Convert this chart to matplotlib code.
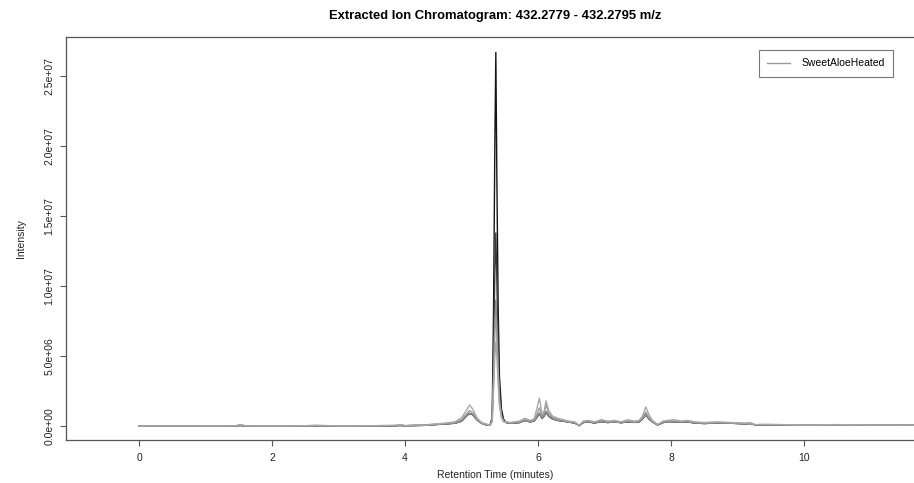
import matplotlib
matplotlib.use("Agg")
import matplotlib.pyplot as plt
import numpy as np

plt.rcParams['font.family'] = ['Liberation Sans', 'DejaVu Sans']

# retention time grid (minutes)
rt = [0.00, 0.50, 1.00, 1.45, 1.52, 1.60, 2.00, 2.50, 2.65, 3.00, 3.50, 3.85, 3.92,
      4.00, 4.30, 4.45, 4.60, 4.75, 4.85, 4.92, 4.97, 5.02, 5.08, 5.15, 5.22,
      5.28, 5.31, 5.33, 5.35, 5.365, 5.38, 5.40, 5.42, 5.45, 5.48, 5.52, 5.58,
      5.65, 5.72, 5.80, 5.88, 5.94, 5.98, 6.02, 6.06, 6.09, 6.12, 6.16, 6.22,
      6.30, 6.38, 6.46, 6.55, 6.62, 6.68, 6.75, 6.85, 6.95, 7.05, 7.15, 7.25,
      7.35, 7.45, 7.52, 7.57, 7.62, 7.67, 7.72, 7.80, 7.88, 7.95, 8.05, 8.15,
      8.25, 8.35, 8.50, 8.70, 8.90, 9.10, 9.20, 9.26, 9.40, 9.70, 10.00, 10.50,
      11.00, 11.50, 12.00]

# intensities of the five injections, in units of 1e6 counts
inj1 = [0.00, 0.00, 0.00, 0.01, 0.04, 0.01, 0.01, 0.01, 0.02, 0.01, 0.01, 0.02, 0.04,
        0.02, 0.05, 0.10, 0.15, 0.20, 0.35, 0.70, 0.90, 0.80, 0.45, 0.20, 0.08,
        0.10, 0.60, 8.00, 20.0, 26.7, 18.0, 8.50, 3.50, 1.20, 0.50, 0.25, 0.20,
        0.22, 0.25, 0.40, 0.30, 0.35, 0.60, 0.90, 0.55, 0.70, 1.00, 0.70, 0.50,
        0.40, 0.35, 0.28, 0.22, 0.03, 0.25, 0.30, 0.22, 0.32, 0.25, 0.30, 0.24,
        0.30, 0.26, 0.30, 0.50, 0.80, 0.50, 0.30, 0.07, 0.25, 0.32, 0.30, 0.28,
        0.30, 0.22, 0.18, 0.22, 0.20, 0.16, 0.18, 0.08, 0.09, 0.08, 0.06, 0.07,
        0.06, 0.05, 0.05]
inj2 = [0.00, 0.00, 0.00, 0.01, 0.04, 0.01, 0.01, 0.01, 0.02, 0.01, 0.01, 0.02, 0.04,
        0.02, 0.05, 0.10, 0.15, 0.20, 0.35, 0.70, 0.90, 0.80, 0.45, 0.20, 0.08,
        0.08, 0.50, 4.50, 11.0, 13.8, 10.5, 5.50, 2.50, 0.90, 0.40, 0.25, 0.20,
        0.22, 0.25, 0.40, 0.30, 0.35, 0.60, 0.90, 0.55, 0.70, 1.00, 0.70, 0.50,
        0.40, 0.35, 0.28, 0.22, 0.03, 0.25, 0.30, 0.22, 0.32, 0.25, 0.30, 0.24,
        0.30, 0.26, 0.30, 0.50, 0.80, 0.50, 0.30, 0.07, 0.25, 0.32, 0.30, 0.28,
        0.30, 0.22, 0.18, 0.22, 0.20, 0.16, 0.18, 0.08, 0.09, 0.08, 0.06, 0.07,
        0.06, 0.05, 0.05]
inj3 = [0.00, 0.00, 0.00, 0.01, 0.04, 0.01, 0.01, 0.01, 0.02, 0.01, 0.01, 0.02, 0.04,
        0.02, 0.05, 0.10, 0.15, 0.20, 0.35, 0.70, 0.90, 0.80, 0.45, 0.20, 0.08,
        0.06, 0.40, 3.50, 7.50, 9.00, 7.20, 4.00, 1.80, 0.70, 0.35, 0.25, 0.20,
        0.22, 0.25, 0.40, 0.30, 0.35, 0.60, 0.90, 0.55, 0.70, 1.00, 0.70, 0.50,
        0.40, 0.35, 0.28, 0.22, 0.03, 0.25, 0.30, 0.22, 0.32, 0.25, 0.30, 0.24,
        0.30, 0.26, 0.30, 0.50, 0.80, 0.50, 0.30, 0.07, 0.25, 0.32, 0.30, 0.28,
        0.30, 0.22, 0.18, 0.22, 0.20, 0.16, 0.18, 0.08, 0.09, 0.08, 0.06, 0.07,
        0.06, 0.05, 0.05]
inj4 = [0.00, 0.00, 0.01, 0.01, 0.06, 0.01, 0.01, 0.02, 0.05, 0.01, 0.02, 0.03, 0.06,
        0.02, 0.06, 0.12, 0.18, 0.25, 0.45, 0.85, 1.10, 0.95, 0.50, 0.22, 0.10,
        0.05, 0.40, 3.00, 6.80, 8.00, 6.50, 3.80, 1.70, 0.70, 0.35, 0.30, 0.22,
        0.25, 0.30, 0.45, 0.35, 0.40, 0.80, 1.30, 0.70, 0.90, 1.50, 0.90, 0.60,
        0.45, 0.40, 0.30, 0.25, 0.04, 0.30, 0.35, 0.25, 0.40, 0.30, 0.32, 0.28,
        0.35, 0.30, 0.35, 0.60, 1.00, 0.60, 0.35, 0.08, 0.30, 0.38, 0.35, 0.30,
        0.35, 0.25, 0.22, 0.25, 0.22, 0.18, 0.20, 0.09, 0.10, 0.09, 0.07, 0.08,
        0.07, 0.06, 0.05]
inj5 = [0.00, 0.00, 0.01, 0.02, 0.10, 0.02, 0.01, 0.02, 0.03, 0.01, 0.02, 0.05, 0.10,
        0.03, 0.08, 0.15, 0.20, 0.30, 0.60, 1.10, 1.50, 1.20, 0.60, 0.25, 0.15,
        0.04, 0.30, 2.50, 5.00, 6.00, 5.00, 3.00, 1.40, 0.60, 0.30, 0.30, 0.25,
        0.30, 0.35, 0.55, 0.40, 0.50, 1.20, 2.00, 0.90, 1.00, 1.80, 1.10, 0.70,
        0.55, 0.45, 0.35, 0.30, 0.05, 0.35, 0.40, 0.30, 0.45, 0.35, 0.40, 0.30,
        0.45, 0.35, 0.40, 0.70, 1.36, 0.80, 0.40, 0.10, 0.35, 0.40, 0.45, 0.35,
        0.40, 0.30, 0.25, 0.30, 0.25, 0.20, 0.22, 0.10, 0.12, 0.10, 0.08, 0.10,
        0.08, 0.07, 0.06]

# darkest trace first, lighter ones drawn over it
traces = [inj1, inj2, inj3, inj4, inj5]
shades = ['#151515', '#3a3a3a', '#8a8a8a', '#9a9a9a', '#a8a8a8']

x_ticks = [0, 2, 4, 6, 8, 10]
y_ticks = [0, 5e6, 1e7, 1.5e7, 2e7, 2.5e7]
y_labels = ['0.0e+00', '5.0e+06', '1.0e+07', '1.5e+07', '2.0e+07', '2.5e+07']

fig = plt.figure(figsize=(9.14, 4.83), dpi=100)
ax = fig.add_axes([66 / 914, 43 / 483, 859 / 914, 403 / 483])

for vals, col in zip(traces, shades):
    ax.plot(rt, np.array(vals) * 1e6, color=col, lw=1.0)

ax.set_xlim(-1.1, 11.82)
ax.set_ylim(-1.0e6, 2.78e7)
ax.set_xticks(x_ticks)
ax.set_xticklabels([str(t) for t in x_ticks])
ax.set_yticks(y_ticks)
ax.set_yticklabels(y_labels, rotation=90, va='center')

for side in ax.spines.values():
    side.set_color('#555555')
    side.set_linewidth(0.9)
ax.tick_params(length=4.5, width=0.8, color='#555555', labelsize=7.5, labelcolor='#222222')
ax.tick_params(axis='x', pad=5)
ax.tick_params(axis='y', pad=4)

ax.set_xlabel('Retention Time (minutes)', fontsize=7.5, color='#222222', labelpad=5)
ax.set_ylabel('Intensity', fontsize=7.5, color='#222222', labelpad=13)
ax.set_title('Extracted Ion Chromatogram: 432.2779 - 432.2795 m/z',
             fontsize=9.4, fontweight='bold', pad=13)

ax.plot([], [], color='#999999', lw=1.0, label='SweetAloeHeated')
leg = ax.legend(loc='upper right', bbox_to_anchor=(893 / 914, 1 - 50 / 483),
                bbox_transform=fig.transFigure, fontsize=7.5, frameon=True,
                fancybox=False, edgecolor='#555555', handlelength=2.2,
                borderpad=0.8, handletextpad=1.1, borderaxespad=0)
leg.get_frame().set_linewidth(0.8)

fig.savefig('out.png', dpi=100)
